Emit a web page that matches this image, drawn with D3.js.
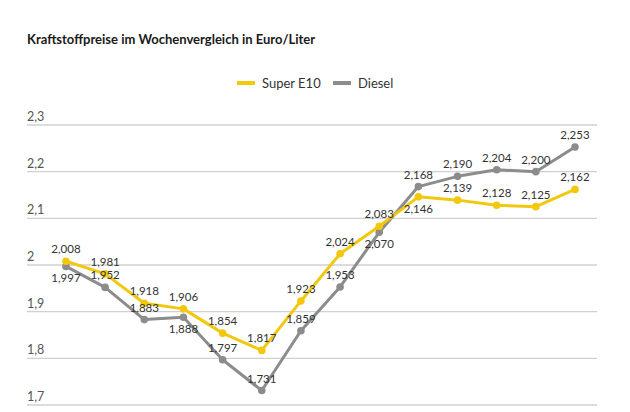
<!DOCTYPE html>
<html>
<head>
<meta charset="utf-8">
<script src="https://cdn.jsdelivr.net/npm/d3@7"></script>
<style>
  html, body { margin: 0; padding: 0; background: #fff; }
  svg { display: block; font-family: Lato, "Open Sans", sans-serif; }
</style>
</head>
<body>
<svg id="chart" width="630" height="412"></svg>
<script>
// Daten
var weeks  = ["07.03.", "14.03.", "21.03.", "28.03.", "04.04.", "11.04.", "18.04.",
              "25.04.", "02.05.", "09.05.", "16.05.", "23.05.", "30.05.", "06.06."];
var superE10 = [2.008, 1.981, 1.918, 1.906, 1.854, 1.817, 1.923,
                2.024, 2.083, 2.146, 2.139, 2.128, 2.125, 2.162];
var diesel   = [1.997, 1.952, 1.883, 1.888, 1.797, 1.731, 1.859,
                1.953, 2.070, 2.168, 2.190, 2.204, 2.200, 2.253];
var yTicks      = [1.7, 1.8, 1.9, 2.0, 2.1, 2.2, 2.3];
var yTickLabels = ["1,7", "1,8", "1,9", "2", "2,1", "2,2", "2,3"];

var colE10 = "#f2c80f", colDiesel = "#8c8c8c";

var svg = d3.select("#chart");

var x = d3.scalePoint().domain(weeks).range([66, 575]);
var y = d3.scaleLinear().domain([1.7, 2.3]).range([405, 125]);

// Titel
svg.append("text")
  .attr("x", 27).attr("y", 44)
  .style("font-size", "13px").style("font-weight", "bold").style("fill", "#1a1a1a")
  .text("Kraftstoffpreise im Wochenvergleich in Euro/Liter");

// Legende
var legend = [{name: "Super E10", col: colE10, x: 237}, {name: "Diesel", col: colDiesel, x: 333}];
var lg = svg.selectAll(".lg").data(legend).enter().append("g")
  .attr("transform", function(d){ return "translate(" + d.x + ",83)"; });
lg.append("line").attr("x1", 0).attr("x2", 18).attr("y1", 0).attr("y2", 0)
  .attr("stroke", function(d){ return d.col; }).attr("stroke-width", 4);
lg.append("text").attr("x", 25).attr("y", 4.5)
  .style("font-size", "13px").style("fill", "#333")
  .text(function(d){ return d.name; });

// Gitternetz + Y-Beschriftung
var grid = svg.append("g");
grid.selectAll("line").data(yTicks).enter().append("line")
  .attr("x1", 27).attr("x2", 597)
  .attr("y1", function(d){ return y(d); }).attr("y2", function(d){ return y(d); })
  .attr("stroke", "#d0d0d0").attr("stroke-width", 1.3);
grid.selectAll("text").data(yTicks).enter().append("text")
  .attr("x", 27).attr("y", function(d){ return y(d) - 4; })
  .style("font-size", "12.5px").style("fill", "#555")
  .text(function(d, i){ return yTickLabels[i]; });

// X-Achse (Beschriftung wie im Original unten abgeschnitten)
var xAxis = svg.append("g").attr("transform", "translate(0,410)")
  .call(d3.axisBottom(x).tickSize(0).tickPadding(0));
xAxis.select(".domain").remove();
xAxis.selectAll("text")
  .attr("y", 0).attr("dy", 0)
  .attr("transform", "translate(3,6) rotate(-45)")
  .style("text-anchor", "end")
  .style("font-size", "11px").style("font-family", "Lato, sans-serif").style("fill", "#333");

var fmt = function(v){ return d3.format(".3f")(v).replace(".", ","); };

var line = d3.line()
  .x(function(d, i){ return x(weeks[i]); })
  .y(function(d){ return y(d); });

// Reihen (Beschriftung unterhalb fuer bestimmte Punkte)
var series = [
  {vals: diesel,   col: colDiesel, below: [0, 3, 8]},
  {vals: superE10, col: colE10,    below: [9]}
];

series.forEach(function(s){
  svg.append("path").datum(s.vals)
    .attr("d", line).attr("fill", "none")
    .attr("stroke", s.col).attr("stroke-width", 3).attr("stroke-linejoin", "round");
  svg.selectAll(null).data(s.vals).enter().append("circle")
    .attr("cx", function(d, i){ return x(weeks[i]); })
    .attr("cy", function(d){ return y(d); })
    .attr("r", 3.8).attr("fill", s.col);
});

series.forEach(function(s){
  svg.selectAll(null).data(s.vals).enter().append("text")
    .attr("x", function(d, i){ return x(weeks[i]); })
    .attr("y", function(d, i){ return y(d) + (s.below.indexOf(i) >= 0 ? 16 : -8); })
    .attr("text-anchor", "middle")
    .style("font-size", "11.5px").style("fill", "#333")
    .text(fmt);
});
</script>
</body>
</html>
